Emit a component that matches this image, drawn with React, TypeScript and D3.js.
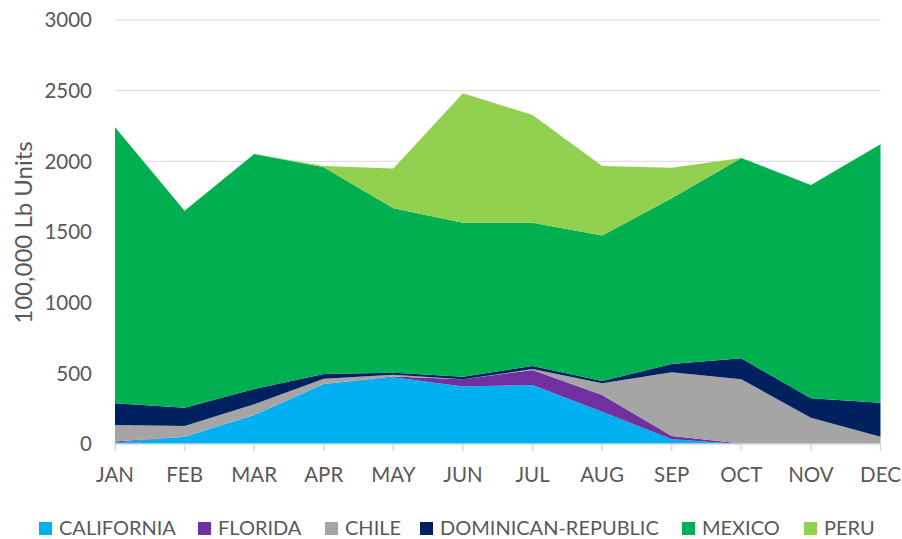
import React from "react";
import * as d3 from "d3";

const months = ["JAN", "FEB", "MAR", "APR", "MAY", "JUN", "JUL", "AUG", "SEP", "OCT", "NOV", "DEC"];
const california = [10, 52, 205, 424, 472, 406, 418, 229, 33, 0, 0, 0];
const florida = [8, 0, 0, 0, 5, 52, 106, 118, 24, 3, 0, 0];
const chile = [116, 75, 76, 38, 13, 0, 6, 83, 450, 455, 186, 52];
const dominican = [154, 130, 108, 33, 15, 18, 22, 16, 59, 148, 137, 240];
const mexico = [1953, 1394, 1663, 1463, 1163, 1090, 1014, 1030, 1172, 1418, 1510, 1829];
const peru = [0, 0, 0, 9, 282, 915, 762, 491, 217, 0, 0, 0];
const yTicks = [0, 500, 1000, 1500, 2000, 2500, 3000];

const seriesNames = ["CALIFORNIA", "FLORIDA", "CHILE", "DOMINICAN-REPUBLIC", "MEXICO", "PERU"];
const seriesValues = [california, florida, chile, dominican, mexico, peru];
const colors = ["#00B0F0", "#7030A0", "#A5A5A5", "#002060", "#00B050", "#92D050"];

const W = 902;
const H = 539;
const X0 = 115;
const X1 = 880.5;
const Y0 = 444;
const Y1 = 20;
const FONT = "Lato, 'Open Sans', sans-serif";
const TEXT = "#595959";
const GRID = "#D9D9D9";
const legendX = [39, 198, 325, 420, 682, 804];

export default function App() {
  const x = d3.scalePoint<string>().domain(months).range([X0, X1]);
  const y = d3.scaleLinear().domain([0, 3000]).range([Y0, Y1]);

  const table = months.map((m, i) => {
    const row: Record<string, any> = { month: m };
    seriesNames.forEach((s, j) => (row[s] = seriesValues[j][i]));
    return row;
  });
  const stacked = d3.stack<any>().keys(seriesNames)(table);
  const area = d3
    .area<any>()
    .x((d) => x(d.data.month) as number)
    .y0((d) => y(d[0]))
    .y1((d) => y(d[1]));

  return (
    <svg width={W} height={H} style={{ position: "absolute", left: 0, top: 0 }}>
      <rect width={W} height={H} fill="#fff" />
      {yTicks.map((t) =>
        t === 0 ? null : (
          <line key={t} x1={X0} x2={X1} y1={y(t)} y2={y(t)} stroke={GRID} strokeWidth={1} />
        )
      )}
      {stacked.map((s, i) => (
        <path key={s.key} d={area(s) || ""} fill={colors[i]} />
      ))}
      <line x1={X0} x2={X1} y1={Y0} y2={Y0} stroke={GRID} strokeWidth={1.5} />
      {months.map((m) => (
        <line key={m} x1={x(m)} x2={x(m)} y1={Y0} y2={Y0 + 7} stroke={GRID} strokeWidth={1.5} />
      ))}
      {yTicks.map((t) => (
        <text
          key={t}
          x={92}
          y={y(t)}
          dy="0.36em"
          textAnchor="end"
          fontFamily={FONT}
          fontSize={20.5}
          fill={TEXT}
        >
          {t}
        </text>
      ))}
      {months.map((m) => (
        <text key={m} x={x(m)} y={481.5} textAnchor="middle" fontFamily={FONT} fontSize={20.5} fill={TEXT}>
          {m}
        </text>
      ))}
      <text
        transform={`translate(32,232.5) rotate(-90)`}
        textAnchor="middle"
        fontFamily={FONT}
        fontSize={24}
        fill={TEXT}
      >
        100,000 Lb Units
      </text>
      {seriesNames.map((s, i) => (
        <g key={s} transform={`translate(${legendX[i]},0)`}>
          <rect x={0} y={522} width={13} height={13} fill={colors[i]} />
          <text x={20} y={535} fontFamily={FONT} fontSize={20} fill={TEXT}>
            {s}
          </text>
        </g>
      ))}
    </svg>
  );
}
